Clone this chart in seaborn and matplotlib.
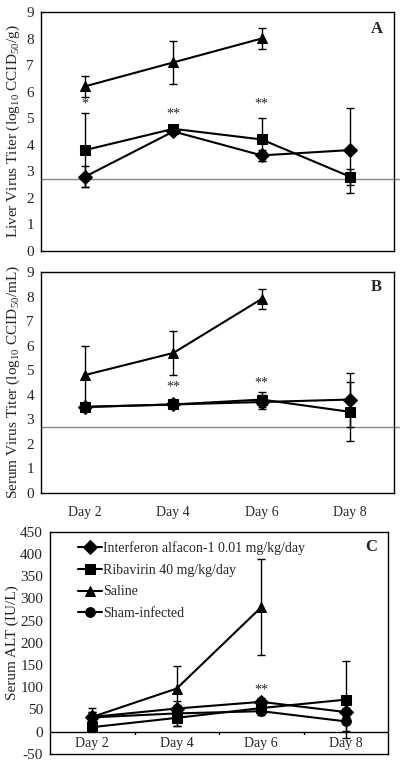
import numpy as np
import pandas as pd
import matplotlib
matplotlib.use("Agg")
import matplotlib.pyplot as plt
import seaborn as sns

days = ["Day 2", "Day 4", "Day 6", "Day 8"]
series = ["Interferon alfacon-1 0.01 mg/kg/day", "Ribavirin 40 mg/kg/day",
          "Saline", "Sham-infected"]
markers = {series[0]: "D", series[1]: "s", series[2]: "^", series[3]: "o"}

# panel A - liver virus titer
liver_ifn = [2.8, 4.5, 3.6, 3.8]
liver_ifn_err = [0.4, 0.1, 0.2, 1.6]
liver_rib = [3.8, 4.6, 4.2, 2.8]
liver_rib_err = [1.4, 0.1, 0.8, 0.3]
liver_sal = [6.2, 7.1, 8.0, np.nan]
liver_sal_err = [0.4, 0.8, 0.4, np.nan]

# panel B - serum virus titer
serum_ifn = [3.5, 3.6, 3.7, 3.8]
serum_ifn_err = [0.1, 0.1, 0.3, 1.1]
serum_rib = [3.5, 3.6, 3.8, 3.3]
serum_rib_err = [0.1, 0.1, 0.3, 1.2]
serum_sal = [4.8, 5.7, 7.9, np.nan]
serum_sal_err = [1.2, 0.9, 0.4, np.nan]

# panel C - serum ALT
alt_ifn = [33, 52, 67, 44]
alt_ifn_err = [12, 8, 8, 10]
alt_rib = [10, 31, 53, 72]
alt_rib_err = [5, 19, 8, 86]
alt_sal = [33, 97, 280, np.nan]
alt_sal_err = [20, 51, 108, np.nan]
alt_sham = [32, 41, 46, 23]
alt_sham_err = [12, 29, 8, 22]

detect_limit = 2.7

sns.set_style("white")
plt.rcParams["font.family"] = ["Liberation Serif", "DejaVu Serif"]
plt.rcParams["mathtext.fontset"] = "custom"
plt.rcParams["mathtext.rm"] = "Liberation Serif"
plt.rcParams["axes.unicode_minus"] = False


def draw_panel(ax, data, ylabel, letter):
    rows = []
    for name, (vals, errs) in data.items():
        for i, v in enumerate(vals):
            rows.append({"pos": i, "value": v, "err": errs[i], "series": name})
    df = pd.DataFrame(rows)
    names = list(data.keys())
    sns.lineplot(data=df.dropna(), x="pos", y="value", hue="series", style="series",
                 hue_order=names, style_order=names,
                 markers={n: markers[n] for n in names}, dashes=False,
                 palette=["black"] * len(names), linewidth=1.5, markersize=7,
                 markeredgecolor="black", ax=ax, legend=(letter == "C"))
    for name in names:
        d = df[df.series == name].dropna()
        ax.errorbar(d.pos, d.value, yerr=d.err, fmt="none", ecolor="black",
                    elinewidth=1, capsize=3, capthick=1, zorder=1)
    ax.set_xlim(-0.5, 3.5)
    ax.set_xlabel("")
    ax.set_ylabel(ylabel, fontsize=11, labelpad=3)
    ax.text(0.95, 0.93, letter, transform=ax.transAxes, ha="center", va="center",
            fontsize=12, fontweight="bold")
    ax.tick_params(axis="y", labelsize=11, length=3, direction="out", pad=2)
    for s in ax.spines.values():
        s.set_color("black")
        s.set_linewidth(1)


fig = plt.figure(figsize=(4.0, 7.7), dpi=100)
axA = fig.add_axes([0.1025, 0.674, 0.8825, 0.3105])
axB = fig.add_axes([0.1025, 0.360, 0.8825, 0.2868])
axC = fig.add_axes([0.125, 0.021, 0.845, 0.2885])

draw_panel(axA, {series[0]: (liver_ifn, liver_ifn_err),
                 series[1]: (liver_rib, liver_rib_err),
                 series[2]: (liver_sal, liver_sal_err)},
           r"Liver Virus Titer (log$_\mathregular{10}$ CCID$_\mathregular{50}$/g)", "A")
draw_panel(axB, {series[0]: (serum_ifn, serum_ifn_err),
                 series[1]: (serum_rib, serum_rib_err),
                 series[2]: (serum_sal, serum_sal_err)},
           r"Serum Virus Titer (log$_\mathregular{10}$ CCID$_\mathregular{50}$/mL)", "B")
draw_panel(axC, {series[0]: (alt_ifn, alt_ifn_err),
                 series[1]: (alt_rib, alt_rib_err),
                 series[2]: (alt_sal, alt_sal_err),
                 series[3]: (alt_sham, alt_sham_err)},
           "Serum ALT (IU/L)", "C")
axC.yaxis.labelpad = 1

for ax in (axA, axB):
    ax.set_ylim(0, 9)
    ax.set_yticks(range(0, 10))
    ax.axhline(detect_limit, xmin=0, xmax=1.02, color="#888888", lw=1,
               clip_on=False, zorder=0)
    ax.set_xticks([0.5, 1.5, 2.5])
    ax.set_xticklabels([])
    ax.tick_params(axis="x", length=3, direction="out")

# day labels sit under panel B
for i, d in enumerate(days):
    axB.text(i, -0.55, d, ha="center", va="top", fontsize=10)

axC.set_ylim(-50, 450)
axC.set_yticks(range(-50, 451, 50))
axC.axhline(0, color="black", lw=1)
axC.set_xticks([])
for x in (0.5, 1.5, 2.5):
    axC.plot([x, x], [0, -6], color="black", lw=1)
for i, d in enumerate(days):
    axC.text(i, -12, d, ha="center", va="top", fontsize=10)

leg = axC.legend(loc="upper left", bbox_to_anchor=(0.055, 1.0), frameon=False,
                 fontsize=10, handlelength=1.7, handletextpad=0.1, labelspacing=0.62,
                 borderaxespad=0.3)

# significance marks
for ax, pts in ((axA, [(0, 5.3, "*"), (1, 4.9, "**"), (2, 5.3, "**")]),
                (axB, [(1, 4.05, "**"), (2, 4.2, "**")]),
                (axC, [(2, 80, "**")])):
    for x, y, s in pts:
        ax.text(x, y, s, ha="center", va="bottom", fontsize=10)

fig.savefig("out.png", dpi=100)
